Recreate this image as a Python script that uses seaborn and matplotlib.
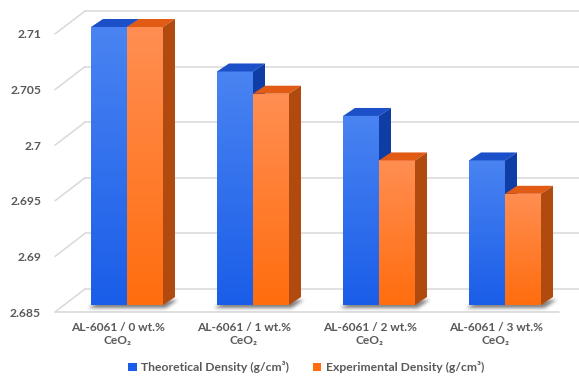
import numpy as np
import pandas as pd
import matplotlib
matplotlib.use("Agg")
import matplotlib.pyplot as plt
from matplotlib.patches import Polygon, Rectangle
from matplotlib.lines import Line2D
import seaborn as sns

# --- data ---------------------------------------------------------------
categories = ["AL-6061 / 0 wt.%\nCeO\u2082", "AL-6061 / 1 wt.%\nCeO\u2082",
              "AL-6061 / 2 wt.%\nCeO\u2082", "AL-6061 / 3 wt.%\nCeO\u2082"]
series_names = ["Theoretical Density (g/cm\u00b3)", "Experimental Density (g/cm\u00b3)"]
theoretical = [2.710, 2.706, 2.702, 2.698]
experimental = [2.710, 2.704, 2.698, 2.695]
y_ticks = [2.685, 2.69, 2.695, 2.7, 2.705, 2.71]
y_tick_labels = ["2.685", "2.69", "2.695", "2.7", "2.705", "2.71"]

df = pd.DataFrame({
    "sample": categories * 2,
    "series": [series_names[0]] * 4 + [series_names[1]] * 4,
    "density": theoretical + experimental,
})

# --- style --------------------------------------------------------------
sns.set_theme(style="white")
plt.rcParams["font.family"] = ["Lato", "DejaVu Sans"]
TXT = "#595959"
GRID = "#d9d9d9"
front_cols = {series_names[0]: ("#4a84f2", "#1a5de8"),
              series_names[1]: ("#ff8e52", "#ff6d0e")}
top_cols = {series_names[0]: "#1b50c9", series_names[1]: "#e25b15"}
side_cols = {series_names[0]: "#0f3da6", series_names[1]: "#b14a0e"}

W, H, DPI = 579, 376, 100
fig = plt.figure(figsize=(W / DPI, H / DPI), dpi=DPI)
# axes = front plane of the floor (pixel box 55..559 x 34..312)
ax = fig.add_axes([55 / W, (H - 312) / H, 504 / W, 278 / H])

palette = {k: v[1] for k, v in front_cols.items()}
sns.barplot(data=df, x="sample", y="density", hue="series", palette=palette,
            width=0.5714, dodge=True, ax=ax, legend=False, saturation=1)

base = 2.685
ax.set_xlim(-0.5, 3.5)
ax.set_ylim(base, 2.71)
ax.set_yticks(y_ticks)
ax.set_yticklabels(y_tick_labels)
ax.set_xlabel("")
ax.set_ylabel("")
for s in ax.spines.values():
    s.set_visible(False)
ax.patch.set_alpha(0)
ax.tick_params(axis="y", length=0, pad=10, labelsize=8.7, labelcolor=TXT)
ax.tick_params(axis="x", length=0, pad=7, labelsize=8.6, labelcolor=TXT)
for lab in ax.get_xticklabels() + ax.get_yticklabels():
    lab.set_fontweight("bold")
    lab.set_linespacing(1.3)

# pixel -> data conversion factors for the pseudo-3D offsets
fig.canvas.draw()
p0 = ax.transData.transform((0, base))
p1 = ax.transData.transform((1, base + 0.005))
sx = p1[0] - p0[0]            # px per category unit
sy = (p1[1] - p0[1]) / 0.005  # px per density unit

def dx(px):
    return px / sx

def dy(px):
    return px / sy

x0, x1 = ax.get_xlim()
wall_dx, wall_dy = dx(30), dy(23)

# floor
floor = Polygon([(x0, base), (x1, base), (x1 + wall_dx, base + wall_dy),
                 (x0 + wall_dx, base + wall_dy)], closed=True,
                facecolor="white", edgecolor="none", zorder=0.5, clip_on=False)
ax.add_patch(floor)
ax.add_line(Line2D([x0, x1], [base, base], color=GRID, lw=1.2, zorder=0.6,
                   clip_on=False))
# back wall gridlines and left wall diagonals
for t in y_ticks:
    ax.add_line(Line2D([x0 + wall_dx, x1 + wall_dx], [t + wall_dy, t + wall_dy],
                       color=GRID, lw=1.1, zorder=0.6, clip_on=False))
    ax.add_line(Line2D([x0, x0 + wall_dx], [t, t + wall_dy],
                       color=GRID, lw=1.1, zorder=0.6, clip_on=False))

# bars: shift front faces into the middle depth, add top/side faces
bar_dx, bar_dy = dx(9), dy(7)
dep_px_x, dep_px_y = 12, 8
dep_dx, dep_dy = dx(dep_px_x), dy(dep_px_y)
grad = np.linspace(1, 0, 256).reshape(-1, 1)


def soft_shadow(group_w_px, pad=10):
    """Blurred footprint of a bar group, offset a little down-left."""
    wpx = int(group_w_px + dep_px_x + 2 * pad + 6)
    hpx = int(dep_px_y + 2 * pad)
    u = np.arange(wpx) - pad + 0.5
    v = np.arange(hpx) - pad + 0.5
    U, V = np.meshgrid(u, v)
    Us, Vs = U + 2.5, V + 3.0
    inside = ((Vs >= 0) & (Vs <= dep_px_y) & (Us >= Vs * 1.5)
              & (Us <= group_w_px + Vs * 1.5 + 5))
    m = inside.astype(float)
    k = np.exp(-0.5 * (np.arange(-6, 7) / 1.8) ** 2)
    k /= k.sum()
    m = np.apply_along_axis(lambda r: np.convolve(r, k, "same"), 1, m)
    m = np.apply_along_axis(lambda c: np.convolve(c, k, "same"), 0, m)
    rgba = np.zeros((hpx, wpx, 4))
    rgba[..., :3] = 0.15
    rgba[..., 3] = m * 0.6
    return rgba, wpx, hpx


for bar in ax.containers[0]:
    gx = bar.get_x() + bar_dx
    gw = bar.get_width() * 2
    img, wpx, hpx = soft_shadow(gw * sx)
    pad = 10
    ax.imshow(img, origin="lower", aspect="auto", interpolation="bilinear",
              extent=(gx - dx(pad), gx + dx(wpx - pad),
                      base + bar_dy - dy(pad), base + bar_dy + dy(hpx - pad)),
              zorder=0.8, clip_on=False)

order = 1.0
for i in range(len(categories)):
    for container, name in zip(ax.containers, series_names):
        bar = container[i]
        val = bar.get_height()
        bx = bar.get_x() + bar_dx
        bw = bar.get_width()
        by = base + bar_dy
        top = val + bar_dy
        bar.set_x(bx)
        bar.set_y(by)
        bar.set_height(val - base)
        bar.set_zorder(order)
        bar.set_clip_on(False)
        bar.set_edgecolor("none")
        c_top, c_bot = front_cols[name]
        cmap = matplotlib.colors.LinearSegmentedColormap.from_list(
            "g", [c_bot, c_top])
        im = ax.imshow(grad, cmap=cmap, aspect="auto",
                       extent=(bx, bx + bw, by, top), zorder=order + 0.01,
                       interpolation="bilinear")
        im.set_clip_path(bar)
        tface = Polygon([(bx, top), (bx + bw, top),
                         (bx + bw + dep_dx, top + dep_dy), (bx + dep_dx, top + dep_dy)],
                        closed=True, facecolor=top_cols[name], edgecolor="none",
                        zorder=order + 0.02, clip_on=False)
        sface = Polygon([(bx + bw, by), (bx + bw + dep_dx, by + dep_dy),
                         (bx + bw + dep_dx, top + dep_dy), (bx + bw, top)],
                        closed=True, facecolor=side_cols[name], edgecolor="none",
                        zorder=order + 0.02, clip_on=False)
        ax.add_patch(tface)
        ax.add_patch(sface)
        order += 0.1

ax.set_xlim(x0, x1)
ax.set_ylim(base, 2.71)

# legend
handles = [Rectangle((0, 0), 1, 1, facecolor=front_cols[n][1], edgecolor="none")
           for n in series_names]
leg = fig.legend(handles, series_names, loc="center", bbox_to_anchor=(306 / W, 1 - 367 / H),
                 ncol=2, frameon=False, fontsize=8.7, handlelength=0.7,
                 handleheight=0.7, handletextpad=0.35, columnspacing=2.0)
for t in leg.get_texts():
    t.set_color(TXT)
    t.set_fontweight("bold")

fig.savefig("out.png", dpi=DPI, facecolor="white")
